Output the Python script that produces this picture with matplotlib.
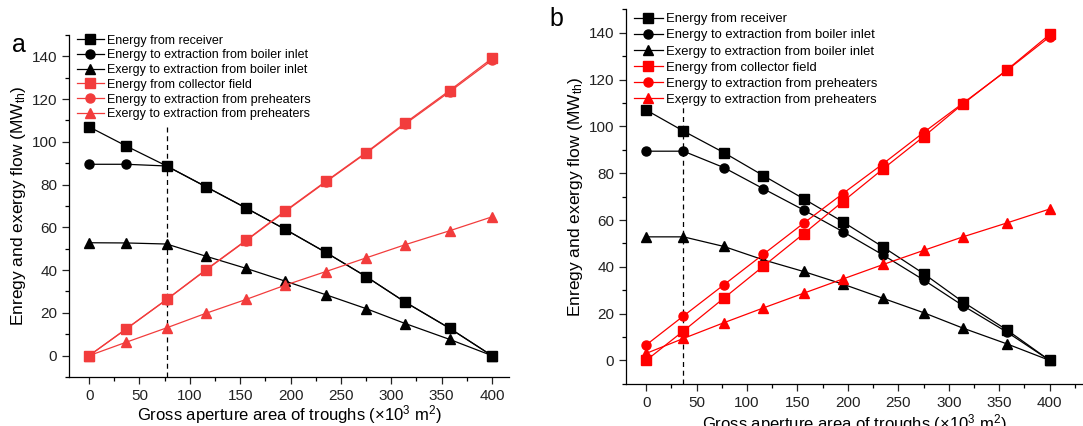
import matplotlib
matplotlib.use("Agg")
import matplotlib.pyplot as plt
from matplotlib.ticker import MultipleLocator

plt.rcParams["font.family"] = ["Liberation Sans", "DejaVu Sans"]
plt.rcParams["mathtext.fontset"] = "custom"
plt.rcParams["mathtext.rm"] = "Liberation Sans"
plt.rcParams["mathtext.it"] = "Liberation Sans:italic"

# gross aperture area (x10^3 m2)
area = [0, 37, 77, 116, 156, 195, 235, 275, 314, 358, 400]

# panel a
a_receiver = [107, 98, 88.7, 79, 69, 59, 48.3, 37, 25, 12.8, 0]
a_boiler_energy = [89.5, 89.5, 88.7, 79, 69, 59, 48.3, 37, 25, 12.8, 0]
a_boiler_exergy = [52.8, 52.7, 52.2, 46.5, 40.8, 34.8, 28.5, 22, 15, 7.6, 0]
a_collector = [0, 12.6, 26.3, 40.2, 54, 67.8, 81.5, 95, 108.9, 124, 139]
a_pre_energy = [0, 12.5, 26.2, 40, 53.8, 67.5, 81.2, 94.7, 108.4, 123.4, 138.2]
a_pre_exergy = [0, 6.3, 13, 19.8, 26.3, 33, 39.3, 45.7, 51.9, 58.4, 64.9]
a_design = 77

# panel b
b_receiver = [107, 98, 88.8, 79, 69.1, 59.2, 48.4, 37.1, 25, 12.9, 0]
b_boiler_energy = [89.4, 89.4, 82.4, 73.4, 64.3, 55, 45, 34.4, 23.4, 12, 0]
b_boiler_exergy = [52.8, 52.8, 48.7, 43, 38, 32.6, 26.5, 20.4, 13.8, 7, 0]
b_collector = [0, 12.6, 26.6, 40.2, 54.1, 67.9, 81.9, 95.6, 109.6, 124.3, 139.3]
b_pre_energy = [6.6, 19, 32.3, 45.3, 58.6, 71.3, 84.1, 97.4, 109.9, 124.1, 138.3]
b_pre_exergy = [3.0, 9.4, 16.1, 22.4, 28.7, 34.8, 41, 47, 52.8, 58.8, 64.7]
b_design = 37

labels = [
    "Energy from receiver",
    "Energy to extraction from boiler inlet",
    "Exergy to extraction from boiler inlet",
    "Energy from collector field",
    "Energy to extraction from preheaters",
    "Exergy to extraction from preheaters",
]


def draw_panel(ax, series, red, design, dash_top, xmax, legend_fs, anchor,
               spacing, xpad):
    markers = ["s", "o", "^", "s", "o", "^"]
    colors = ["black"] * 3 + [red] * 3
    for y, m, c, lab in zip(series, markers, colors, labels):
        ax.plot(area, y, color=c, marker=m, ms=6.5, lw=0.9, label=lab,
                markeredgecolor=c, markerfacecolor=c)
    ax.plot([design, design], [-10, dash_top], color="black", lw=0.9,
            ls=(0, (4, 3)), zorder=0)

    ax.set_xlim(-20, xmax)
    ax.set_ylim(-10, 150)
    ax.xaxis.set_minor_locator(MultipleLocator(25))
    ax.yaxis.set_minor_locator(MultipleLocator(10))
    ax.set_yticks(range(0, 141, 20))
    ax.set_xticks(range(0, 401, 50))
    ax.tick_params(which="major", direction="out", length=5, width=0.9,
                   labelsize=11, colors="#222222")
    ax.tick_params(which="minor", direction="out", length=3, width=0.9)
    for s in ("top", "right"):
        ax.spines[s].set_visible(False)
    for s in ("left", "bottom"):
        ax.spines[s].set_linewidth(0.9)

    ax.set_xlabel(r"Gross aperture area of troughs ($\times$10$^3$ m$^2$)",
                  fontsize=12, labelpad=xpad)
    ax.set_ylabel(r"Enregy and exergy flow (MW$_{\rm th}$)", fontsize=12.5,
                  labelpad=3)
    ax.legend(loc="upper left", bbox_to_anchor=anchor, frameon=False,
              fontsize=legend_fs, handlelength=2.2, handletextpad=0.25,
              labelspacing=spacing, borderaxespad=0.2, borderpad=0.1)


fig = plt.figure(figsize=(10.83, 4.26), dpi=100)
ax_a = fig.add_axes([0.0637, 0.115, 0.4063, 0.803])
ax_b = fig.add_axes([0.578, 0.099, 0.422, 0.879])

draw_panel(ax_a, [a_receiver, a_boiler_energy, a_boiler_exergy,
                  a_collector, a_pre_energy, a_pre_exergy],
           "#F23C3C", a_design, 108, 417, 9, (0.009, 1.012), 0.22, 0.5)
draw_panel(ax_b, [b_receiver, b_boiler_energy, b_boiler_exergy,
                  b_collector, b_pre_energy, b_pre_exergy],
           "#FF0000", b_design, 110.5, 433, 9.4, (0.009, 1.0), 0.3, 2)

fig.text(0.011, 0.895, "a", fontsize=18, ha="left", va="center")
fig.text(0.507, 0.955, "b", fontsize=18, ha="left", va="center")

fig.savefig("out.png", dpi=100)
